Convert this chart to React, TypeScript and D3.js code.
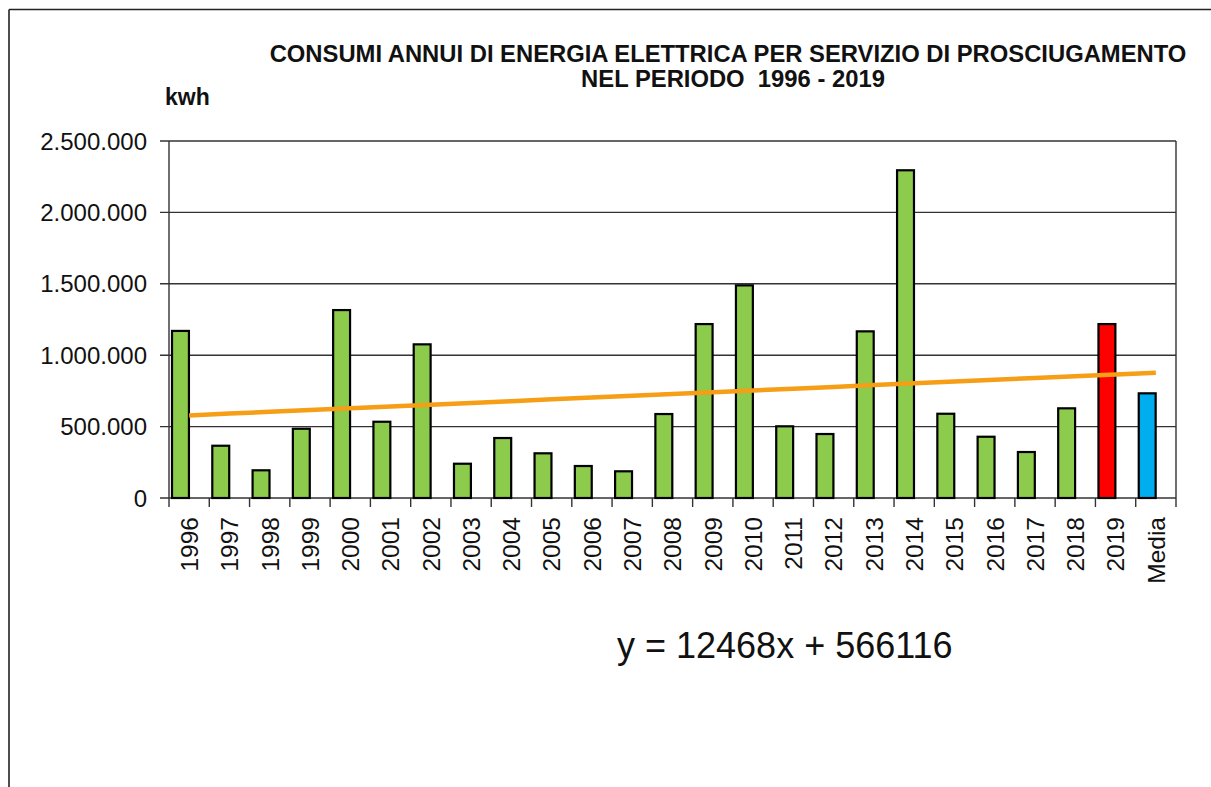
import React from "react";
import * as d3 from "d3";

// annual consumption, kWh
const years = ["1996", "1997", "1998", "1999", "2000", "2001", "2002", "2003", "2004", "2005", "2006", "2007",
  "2008", "2009", "2010", "2011", "2012", "2013", "2014", "2015", "2016", "2017", "2018", "2019"];
const consumi = [1170000, 366000, 194000, 485000, 1316000, 534000, 1076000, 240000, 420000, 313000, 224000, 187000,
  588000, 1218000, 1489000, 502000, 448000, 1167000, 2295000, 590000, 429000, 322000, 628000, 1218000];
const mediaLabel = "Media";
const mediaValue = 733000;
const categories = [...years, mediaLabel];
const values = [...consumi, mediaValue];
const yTicks = [0, 500000, 1000000, 1500000, 2000000, 2500000];
// trend line from the equation shown under the chart
const trendSlope = 12468;
const trendIntercept = 566116;

const W = 1211;
const H = 787;
const margin = { top: 141, right: 35, bottom: 289, left: 169 };
const FONT = "'Liberation Sans', Arial, sans-serif";

const fmt = (v: number) => d3.format(",")(v).replace(/,/g, ".");

const App = () => {
  const x = d3.scaleBand<string>()
    .domain(categories)
    .range([margin.left, W - margin.right])
    .padding(0);
  const y = d3.scaleLinear()
    .domain([0, 2500000])
    .range([H - margin.bottom, margin.top]);

  const bw = x.bandwidth();
  const x0 = margin.left;
  const x1 = W - margin.right;
  const y0 = y(0);

  const barColor = (c: string) => c === mediaLabel ? "#00AEEF" : c === "2019" ? "#FF0000" : "#8CCB4C";

  const trend = d3.line<number>()
    .x((_, i) => (x(categories[i]) as number) + bw / 2)
    .y((_, i) => y(trendSlope * (i + 1) + trendIntercept));

  return (
    <svg width={W} height={H} style={{ position: "absolute", left: 0, top: 0, display: "block", background: "#fff" }}
      fontFamily={FONT}>
      {/* outer frame */}
      <line x1={9} x2={9} y1={9.5} y2={H} stroke="#222" strokeWidth={1.6} />
      <line x1={9} x2={W} y1={9.5} y2={9.5} stroke="#222" strokeWidth={1.6} />

      {/* titles */}
      <text x={728} y={62} textAnchor="middle" fontWeight="bold" fontSize={23.8} fill="#111">
        CONSUMI ANNUI DI ENERGIA ELETTRICA PER SERVIZIO DI PROSCIUGAMENTO
      </text>
      <text x={733} y={87} textAnchor="middle" fontWeight="bold" fontSize={23.8} fill="#111" xmlSpace="preserve">
        NEL PERIODO  1996 - 2019
      </text>
      <text x={165} y={105} fontWeight="bold" fontSize={23} fill="#111">kwh</text>

      {/* grid + y axis */}
      {yTicks.map(t => (
        <g key={t}>
          <line x1={x0 - 9} x2={x1} y1={y(t)} y2={y(t)} stroke="#333" strokeWidth={1.4} />
          <text x={147} y={y(t)} dy="0.36em" textAnchor="end" fontSize={24} fill="#111">{fmt(t)}</text>
        </g>
      ))}
      <line x1={x0} x2={x0} y1={margin.top} y2={y0} stroke="#333" strokeWidth={1.4} />
      <line x1={x1} x2={x1} y1={margin.top} y2={y0 + 9} stroke="#333" strokeWidth={1.4} />

      {/* x ticks */}
      {categories.map(c => (
        <line key={"t" + c} x1={x(c)} x2={x(c)} y1={y0} y2={y0 + 9} stroke="#333" strokeWidth={1.4} />
      ))}

      {/* bars */}
      {categories.map((c, i) => (
        <rect key={c} x={(x(c) as number) + bw * 0.075} width={bw * 0.42} y={y(values[i])}
          height={y0 - y(values[i])} fill={barColor(c)} stroke="#000" strokeWidth={2.2} />
      ))}

      {/* trend line */}
      <path d={trend(categories.map((_, i) => i)) as string} fill="none" stroke="#F59E16" strokeWidth={4.5} />

      {/* x labels */}
      {categories.map(c => {
        const cx = (x(c) as number) + bw / 2;
        return (
          <text key={"l" + c} transform={`translate(${cx},${y0 + 19}) rotate(-90)`} textAnchor="end" dy="0.36em"
            fontSize={24.5} fill="#111">{c}</text>
        );
      })}

      {/* equation */}
      <text x={617} y={658} fontSize={36} fill="#111">y = 12468x + 566116</text>
    </svg>
  );
};

export default App;
